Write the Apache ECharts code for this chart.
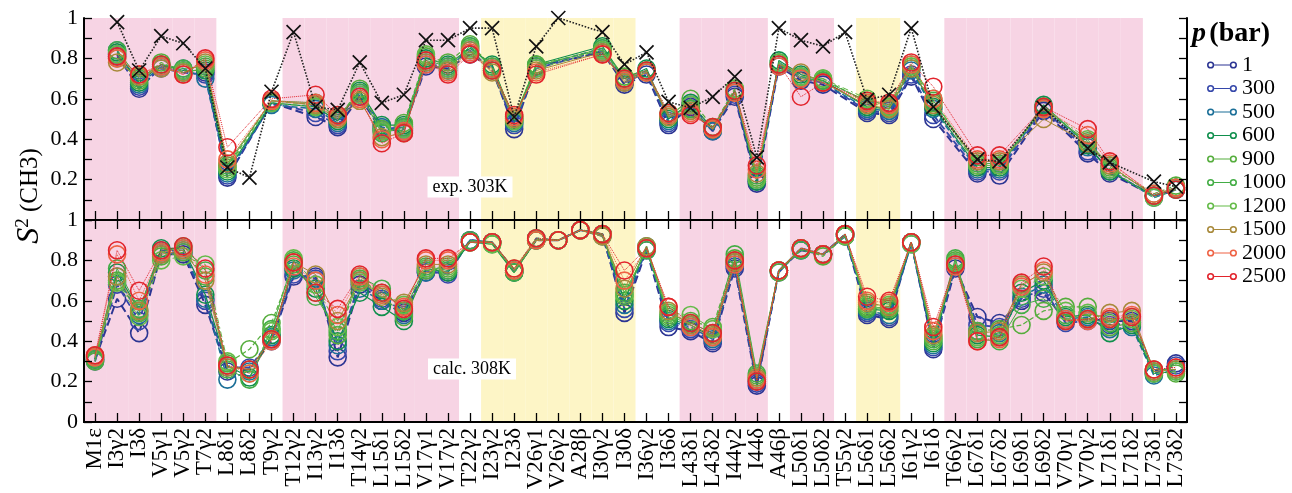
<!DOCTYPE html>
<html>
<head>
<meta charset="utf-8">
<script src="https://cdn.jsdelivr.net/npm/echarts@6/dist/echarts.min.js"></script>
<style>
html,body{margin:0;padding:0;background:#fff;}
#chart{width:1292px;height:493px;}
</style>
</head>
<body>
<div id="chart"></div>
<script>
// ---------------- DATA ----------------
const residues = ['M1ε','I3γ2','I3δ','V5γ1','V5γ2','T7γ2','L8δ1','L8δ2','T9γ2','T12γ2',
  'I13γ2','I13δ','T14γ2','L15δ1','L15δ2','V17γ1','V17γ2','T22γ2','I23γ2','I23δ',
  'V26γ1','V26γ2','A28β','I30γ2','I30δ','I36γ2','I36δ','L43δ1','L43δ2','I44γ2',
  'I44δ','A46β','L50δ1','L50δ2','T55γ2','L56δ1','L56δ2','I61γ2','I61δ','T66γ2',
  'L67δ1','L67δ2','L69δ1','L69δ2','V70γ1','V70γ2','L71δ1','L71δ2','L73δ1','L73δ2'];
const pressures = ['1','300','500','600','900','1000','1200','1500','2000','2500'];

// pink (helix) and yellow (strand) background ranges
const pinkRanges = [['M1ε','T7γ2'],['T12γ2','V17γ2'],['L43δ1','I44δ'],['L50δ1','L50δ2'],['T66γ2','L71δ2']];
const yellowRanges = [['I23γ2','I30δ'],['L56δ1','L56δ2']];

// top panel: exp. 303K, crosses
const expRef = [null,.98,.74,.91,.875,.75,.26,.21,.635,.93,
  .56,.545,.78,.58,.62,.89,.89,.95,.95,.51,
  .86,1.0,null,.93,.77,.83,.585,.555,.61,.71,
  .31,.95,.89,.86,.93,.595,.62,.95,.56,null,
  .30,.29,null,.555,null,.355,.285,null,.19,.165];

// top panel: exp. 303K, circles per pressure
const exp_1 = [null,.82,.65,.76,.74,.73,.21,null,.58,null,
  .51,.46,.61,.44,.45,.76,.75,.82,.75,.45,
  .76,null,null,.83,.67,.72,.47,.56,.44,.61,
  .18,.76,.69,.67,null,.53,.52,.71,.50,null,
  .23,.22,null,.54,null,.33,.23,null,.12,.15];
const exp_300 = [null,.81,.66,.75,.73,.72,.22,null,.58,null,
  .53,.47,.62,.45,.46,.77,.76,.84,.74,.47,
  .75,null,null,.84,.68,.73,.48,.57,.45,.62,
  .19,.77,.70,.68,null,.54,.53,.72,.52,null,
  .24,.24,null,.55,null,.34,.24,null,.12,.16];
const exp_500 = [null,.84,.67,.76,.75,.70,.23,null,.57,null,
  .55,.48,.63,.46,.44,.78,.74,.86,.76,.48,
  .76,null,null,.85,.69,.74,.49,.55,.44,.63,
  .20,.78,.71,.68,null,.55,.54,.74,.55,null,
  .25,.25,null,.56,null,.36,.25,null,.11,.15];
const exp_600 = [null,.83,.68,.77,.74,.74,.24,null,.58,null,
  .56,.49,.64,.47,.47,.80,.77,.85,.77,.49,
  .77,null,null,.86,.70,.75,.50,.58,.45,.64,
  .19,.79,.72,.69,null,.56,.55,.75,.56,null,
  .26,.26,null,.57,null,.37,.24,null,.12,.16];
const exp_900 = [null,.80,.69,.78,.73,.75,.26,null,.59,null,
  .57,.50,.65,.45,.48,.81,.78,.87,.76,.50,
  .77,null,null,.84,.71,.74,.51,.60,.46,.65,
  .21,.78,.71,.70,null,.58,.56,.76,.58,null,
  .27,.27,null,.56,null,.38,.26,null,.13,.17];
const exp_1000 = [null,.84,.70,.77,.75,.76,.27,null,.59,null,
  .58,.51,.63,.43,.46,.79,.76,.86,.75,.51,
  .76,null,null,.85,.70,.73,.52,.55,.45,.64,
  .22,.77,.70,.69,null,.59,.57,.77,.59,null,
  .28,.28,null,.55,null,.39,.27,null,.12,.16];
const exp_1200 = [null,.82,.71,.76,.74,.77,.25,null,.58,null,
  .56,.52,.62,.44,.45,.82,.75,.85,.74,.49,
  .75,null,null,.84,.69,.74,.53,.57,.46,.65,
  .20,.78,.71,.70,null,.60,.56,.76,.60,null,
  .27,.27,null,.56,null,.40,.25,null,.11,.15];
const exp_1500 = [null,.78,.71,.75,.73,.78,.28,null,.59,null,
  .57,.50,.59,.41,.43,.78,.74,.84,.73,.50,
  .74,null,null,.83,.68,.73,.51,.54,.45,.63,
  .23,.77,.73,.68,null,.57,.55,.75,.57,null,
  .29,.29,null,.50,null,.38,.27,null,.12,.16];
const exp_2000 = [null,.80,.72,.76,.72,.79,.30,null,.59,null,
  .58,.51,.60,.40,.44,.77,.73,.83,.75,.51,
  .73,null,null,.82,.69,.73,.52,.53,.45,.63,
  .25,.76,.70,.68,null,.58,.57,.77,.60,null,
  .30,.30,null,.55,null,.42,.28,null,.13,.16];
const exp_2500 = [null,.81,.72,.77,.72,.80,.36,null,.60,null,
  .62,.52,.61,.38,.43,.79,.72,.82,.74,.52,
  .72,null,null,.82,.70,.74,.53,.52,.46,.64,
  .27,.77,.61,.68,null,.59,.58,.78,.66,null,
  .32,.32,null,.56,null,.45,.29,null,.12,.15];

// bottom panel: calc. 308K
const calc_1 = [.31,.61,.44,.83,.83,.58,.25,.26,.40,.72,
  .72,.32,.68,.60,.54,.74,.74,.90,.89,.75,
  .90,.90,.95,.93,.54,.85,.47,.45,.39,.76,
  .18,.75,.85,.83,.92,.53,.51,.89,.36,.76,
  .52,.49,.60,.64,.50,.51,.50,.50,.25,.29];
const calc_300 = [.30,.68,.50,.84,.84,.60,.27,.27,.41,.73,
  .71,.35,.70,.61,.55,.75,.73,.90,.89,.75,
  .90,.90,.95,.92,.56,.86,.49,.46,.40,.77,
  .19,.74,.86,.83,.93,.54,.52,.89,.37,.77,
  .48,.47,.61,.66,.49,.50,.48,.49,.24,.28];
const calc_500 = [.31,.72,.53,.85,.85,.61,.21,.25,.42,.75,
  .70,.38,.66,.60,.53,.74,.75,.89,.89,.74,
  .91,.90,.95,.93,.58,.86,.50,.47,.41,.78,
  .20,.75,.85,.83,.92,.55,.53,.88,.38,.79,
  .45,.44,.62,.68,.51,.52,.46,.47,.23,.26];
const calc_600 = [.32,.74,.55,.86,.86,.63,.28,.22,.43,.76,
  .66,.40,.64,.57,.50,.76,.74,.89,.88,.74,
  .90,.90,.95,.93,.60,.87,.51,.48,.42,.79,
  .21,.75,.86,.83,.93,.56,.55,.89,.39,.78,
  .43,.42,.64,.70,.52,.53,.44,.48,.24,.25];
const calc_900 = [.30,.70,.54,.82,.84,.72,.29,.36,.49,.78,
  .64,.43,.71,.63,.52,.75,.76,.89,.89,.75,
  .90,.90,.95,.92,.62,.86,.53,.50,.47,.81,
  .23,.74,.86,.82,.92,.57,.56,.89,.40,.80,
  .45,.46,.48,.55,.57,.57,.47,.49,.25,.24];
const calc_1000 = [.31,.76,.56,.84,.87,.75,.26,.21,.46,.80,
  .62,.45,.72,.66,.55,.77,.75,.90,.89,.74,
  .90,.90,.95,.93,.64,.85,.52,.49,.44,.83,
  .24,.75,.85,.83,.93,.56,.57,.89,.41,.81,
  .41,.40,.58,.61,.53,.51,.49,.52,.26,.26];
const calc_1200 = [.32,.69,.52,.80,.82,.78,.30,.24,.45,.81,
  .68,.47,.69,.64,.58,.76,.77,.89,.88,.75,
  .91,.90,.95,.93,.63,.86,.54,.53,.46,.80,
  .22,.75,.86,.83,.92,.58,.58,.88,.42,.79,
  .42,.43,.66,.72,.55,.54,.51,.51,.24,.25];
const calc_1500 = [.33,.72,.55,.83,.85,.70,.27,.26,.41,.79,
  .73,.50,.70,.62,.59,.78,.78,.89,.89,.76,
  .90,.90,.95,.92,.66,.87,.55,.48,.43,.79,
  .22,.75,.86,.83,.93,.59,.57,.89,.43,.78,
  .44,.45,.68,.74,.50,.51,.54,.55,.25,.26];
const calc_2000 = [.32,.83,.60,.84,.86,.73,.28,.24,.40,.77,
  .70,.53,.72,.63,.57,.80,.80,.89,.89,.75,
  .90,.90,.95,.93,.70,.86,.57,.47,.42,.78,
  .21,.75,.86,.83,.93,.60,.59,.89,.45,.77,
  .40,.41,.67,.75,.51,.50,.52,.53,.26,.27];
const calc_2500 = [.33,.85,.65,.85,.87,.76,.28,.26,.41,.79,
  .64,.56,.73,.64,.56,.81,.81,.89,.89,.76,
  .91,.90,.95,.93,.75,.86,.57,.49,.44,.80,
  .20,.75,.86,.83,.93,.62,.60,.89,.47,.78,
  .40,.42,.69,.77,.50,.51,.51,.52,.26,.27];

const expSets = [exp_1,exp_300,exp_500,exp_600,exp_900,exp_1000,exp_1200,exp_1500,exp_2000,exp_2500];
const calcSets = [calc_1,calc_300,calc_500,calc_600,calc_900,calc_1000,calc_1200,calc_1500,calc_2000,calc_2500];

// ---------------- STYLE ----------------
const colors = ['#2c3593','#3547aa','#1b6f98','#0f8f4c','#55ad3c','#43ad45','#64bb48','#a8893a','#ef6244','#e2242c'];
const lineTypes = [
  {type:'dashed', width:2},
  {type:'dashed', width:1.8},
  {type:'dashed', width:1.5},
  {type:'solid', width:1.2},
  {type:'dashed', width:1.2},
  {type:'solid', width:1},
  {type:[6,3,2,3], width:1},
  {type:'solid', width:1},
  {type:'dotted', width:1},
  {type:'dotted', width:1}
];
const PINK = '#f7d4e4', YELLOW = '#fdf5c6';
const SERIF = '"Liberation Serif","DejaVu Serif",serif';

function bandData() {
  const arr = residues.map(() => ({value: 0, itemStyle: {color: 'rgba(0,0,0,0)'}}));
  const paint = (ranges, col) => ranges.forEach(([a,b]) => {
    for (let i = residues.indexOf(a); i <= residues.indexOf(b); i++) arr[i] = {value: 1, itemStyle: {color: col}};
  });
  paint(pinkRanges, PINK);
  paint(yellowRanges, YELLOW);
  return arr;
}

const chart = echarts.init(document.getElementById('chart'), null, {renderer: 'canvas'});

const G = {left: 84, width: 1103, height: 202};
const tickStyle = {color: '#000', width: 1.3};
const axisLine = {show: true, lineStyle: {color: '#000', width: 2}};

function yAxes(gridIndex, showZero, showOne) {
  const fmt = v => {
    const k = Math.round(v * 10);
    if (k % 2 !== 0) return '';
    if (k === 0) return showZero ? '0' : '';
    if (k === 10) return showOne ? '1' : '';
    return (k / 10).toFixed(1);
  };
  return [
    {type:'value', gridIndex, min:0, max:1, interval:0.1, position:'left', z:10,
     axisLine, splitLine:{show:false},
     axisTick:{show:true, inside:true, length:8, lineStyle:tickStyle},
     axisLabel:{show:true, formatter: fmt, fontFamily: SERIF, fontSize: 22, color:'#000', margin: 6}},
    {type:'value', gridIndex, min:0, max:1, interval:0.1, position:'right', z:10,
     axisLine, splitLine:{show:false},
     axisTick:{show:true, inside:true, length:8, lineStyle:tickStyle},
     axisLabel:{show:false}}
  ];
}

const xBase = {type:'category', data: residues, boundaryGap: true, z: 10, axisLine, splitLine:{show:false}};

const xAxis = [
  Object.assign({}, xBase, {gridIndex:0, position:'top',
     axisTick:{show:true, inside:true, length:9, alignWithLabel:true, interval:0, lineStyle:tickStyle},
     axisLabel:{show:false, interval:0}}),
  Object.assign({}, xBase, {gridIndex:0, position:'bottom',
     axisTick:{show:true, inside:true, length:9, alignWithLabel:true, interval:0, lineStyle:tickStyle},
     axisLabel:{show:false, interval:0}}),
  Object.assign({}, xBase, {gridIndex:1, position:'top',
     axisTick:{show:false}, axisLabel:{show:false, interval:0}}),
  Object.assign({}, xBase, {gridIndex:1, position:'bottom',
     axisTick:{show:true, inside:true, length:9, alignWithLabel:true, interval:0, lineStyle:tickStyle},
     axisLabel:{show:true, interval:0, rotate:90, fontFamily: SERIF, fontSize: 23, color:'#000', margin: 6}})
];

const yAxis = [].concat(yAxes(0, false, true), yAxes(1, true, true));

const series = [];
// background bands
[[1,0],[3,2]].forEach(([xi, yi]) => {
  series.push({type:'bar', xAxisIndex: xi, yAxisIndex: yi, data: bandData(), barWidth:'100%',
    barCategoryGap:'0%', silent:true, z:0, animation:false, itemStyle:{borderWidth:0}});
});

function circleSeries(data, i, xi, yi) {
  return {
    name: pressures[i], type:'line', xAxisIndex: xi, yAxisIndex: yi, data,
    connectNulls: true, symbol:'circle', symbolSize: 17, showSymbol: true, showAllSymbol: true,
    lineStyle: Object.assign({color: colors[i]}, lineTypes[i]),
    itemStyle: {color:'rgba(0,0,0,0)', borderColor: colors[i], borderWidth: 1.6},
    emphasis:{disabled:true}, animation:false, z: 3 + i * 0.01
  };
}
expSets.forEach((d, i) => series.push(circleSeries(d, i, 1, 0)));
calcSets.forEach((d, i) => series.push(circleSeries(d, i, 3, 2)));

series.push({
  name:'ref', type:'line', xAxisIndex:1, yAxisIndex:0, data: expRef, connectNulls:true,
  symbol:'path://M0,0L10,10M10,0L0,10', symbolSize: 14, showAllSymbol: true,
  lineStyle:{color:'#222', type:'dotted', width:1.6},
  itemStyle:{color:'rgba(0,0,0,0)', borderColor:'#111', borderWidth:1.7},
  emphasis:{disabled:true}, animation:false, z: 4
});

const ringIcon = 'path://M0.5,5A3.5,3.5 0 1,1 7.5,5A3.5,3.5 0 1,1 0.5,5ZM2,5A2,2 0 1,0 6,5A2,2 0 1,0 2,5Z' +
  'M22.5,5A3.5,3.5 0 1,1 29.5,5A3.5,3.5 0 1,1 22.5,5ZM24,5A2,2 0 1,0 28,5A2,2 0 1,0 24,5Z' +
  'M7.5,4.4L22.5,4.4L22.5,5.6L7.5,5.6Z';

const option = {
  backgroundColor: '#fff',
  animation: false,
  grid: [
    {left: G.left, top: 18, width: G.width, height: G.height},
    {left: G.left, top: 220, width: G.width, height: G.height}
  ],
  xAxis, yAxis, series,
  legend: {
    orient:'vertical', left: 1202, top: 49, itemWidth: 30, itemHeight: 10, itemGap: 1.5,
    selectedMode: false,
    textStyle: {fontFamily: SERIF, fontSize: 22, color:'#000'},
    itemStyle: {borderWidth: 0},
    data: pressures.map((p, i) => ({name: p, icon: ringIcon, itemStyle: {color: colors[i], borderWidth: 0}}))
  },
  graphic: [
    {type:'text', x: 30, y: 196, rotation: Math.PI/2, z: 20,
     style:{text:'{i|S}{s|2}{n| (CH3)}', textAlign:'center', textVerticalAlign:'middle',
       rich:{i:{fontFamily:SERIF, fontSize:32, lineHeight:32, fontStyle:'italic', fill:'#000'},
             s:{fontFamily:SERIF, fontSize:19, lineHeight:14, verticalAlign:'top', fill:'#000'},
             n:{fontFamily:SERIF, fontSize:25, lineHeight:32, fill:'#000'}}}},
    {type:'text', x: 1192, y: 34, z: 20,
     style:{text:'{i|p} {b|(bar)}', textVerticalAlign:'middle',
       rich:{i:{fontFamily:SERIF, fontSize:28, fontStyle:'italic', fontWeight:'bold', fill:'#000'},
             b:{fontFamily:SERIF, fontSize:28, fontWeight:'bold', fill:'#000'}}}},
    {type:'text', x: 470, y: 187, z: 20,
     style:{text:'exp. 303K', fontFamily:SERIF, fontSize:18, fill:'#000', textAlign:'center', textVerticalAlign:'middle',
       backgroundColor:'#fff', padding:[2,5,1,5]}},
    {type:'text', x: 472, y: 369, z: 20,
     style:{text:'calc. 308K', fontFamily:SERIF, fontSize:18, fill:'#000', textAlign:'center', textVerticalAlign:'middle',
       backgroundColor:'#fff', padding:[2,5,1,5]}}
  ]
};
chart.setOption(option);
</script>
</body>
</html>
